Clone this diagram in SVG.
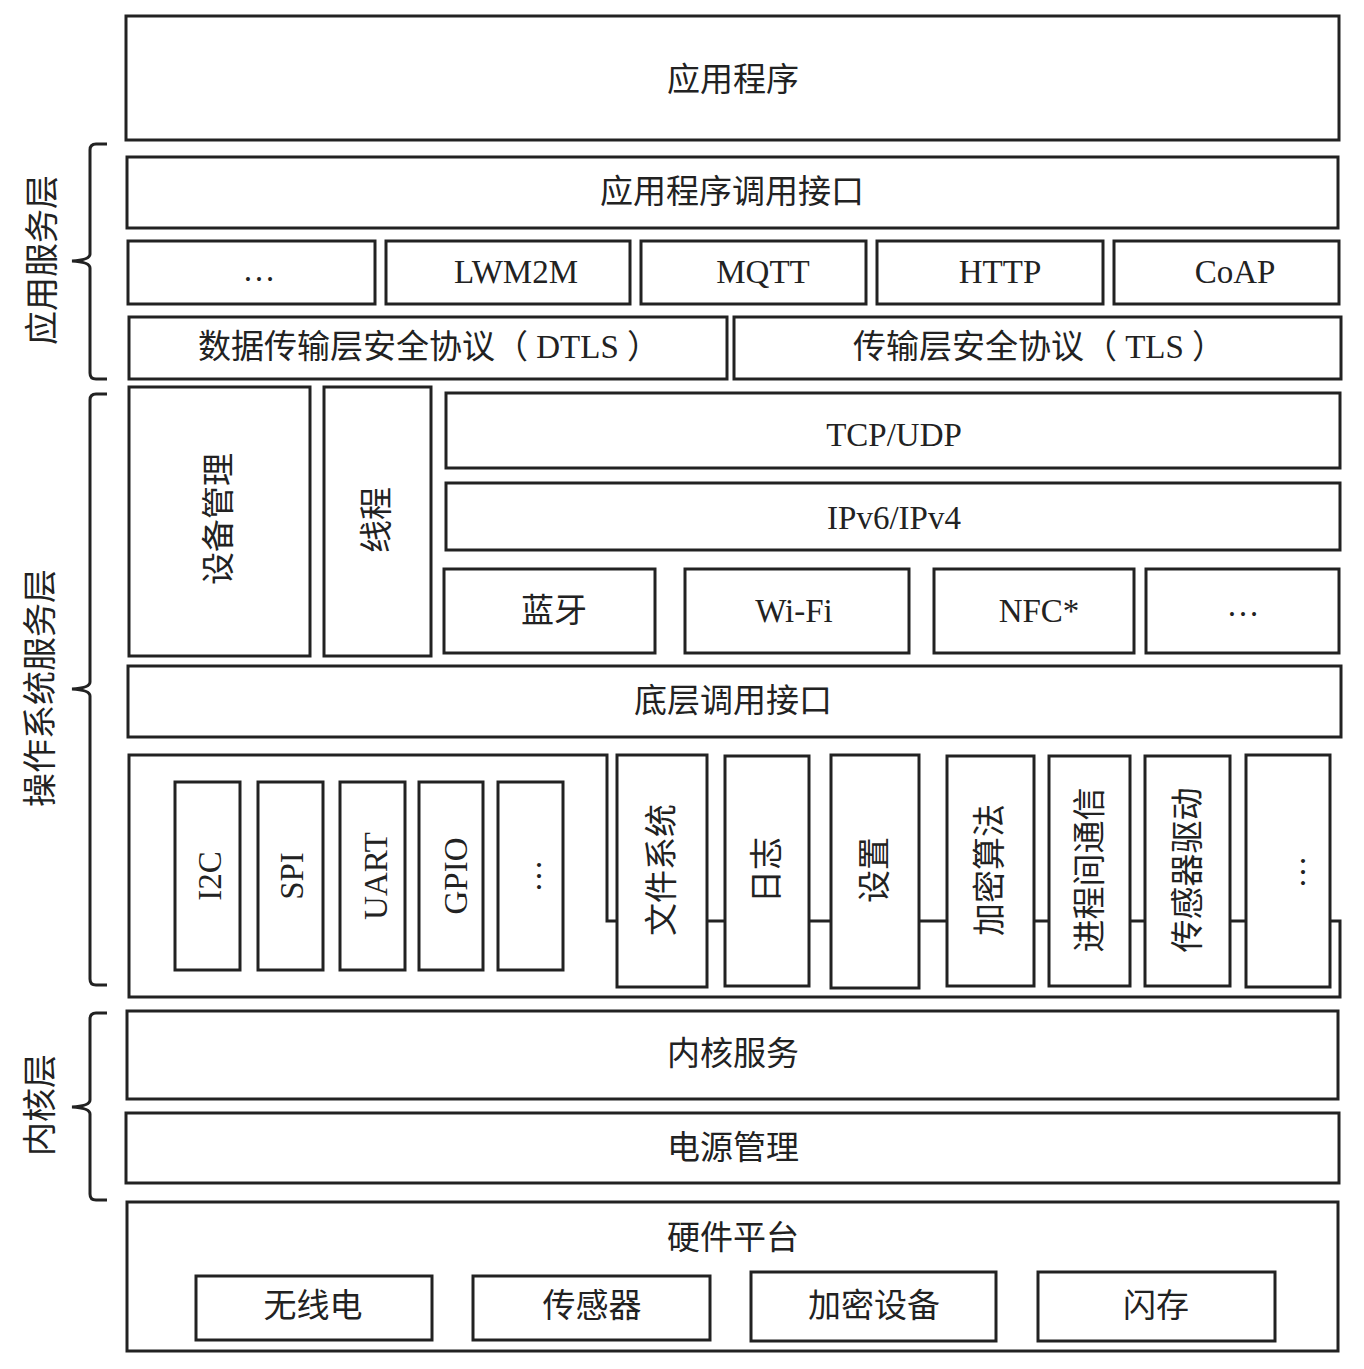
<svg xmlns="http://www.w3.org/2000/svg" width="1364" height="1369" viewBox="0 0 1364 1369">
<style>
  .b { fill: #fff; stroke: #222; stroke-width: 3; }
  .ln { fill: none; stroke: #222; stroke-width: 3; }
  .t { font-family: "Liberation Serif", "Noto Sans CJK SC", serif; font-size: 33px; fill: #222; text-anchor: middle; dominant-baseline: central; }
  .lbl { font-family: "Liberation Serif", "Noto Sans CJK SC", serif; font-size: 34px; fill: #222; text-anchor: middle; dominant-baseline: central; }
</style>
<rect width="1364" height="1369" fill="#fff"/>

<g id="connectors">
  <path class="ln" d="M107,144 H96 Q90,144 90,150 V254 Q90,260 72,261 Q90,262 90,268 V373 Q90,379 96,379 H107"/>
  <path class="ln" d="M107,394 H96 Q90,394 90,400 V682 Q90,688 72,689 Q90,690 90,696 V979 Q90,985 96,985 H107"/>
  <path class="ln" d="M107,1013 H96 Q90,1013 90,1019 V1100 Q90,1106 72,1107 Q90,1108 90,1114 V1194 Q90,1200 96,1200 H107"/>
</g>

<g id="label-app-service"><text class="lbl" transform="translate(42,260) rotate(-90)">应用服务层</text></g>
<g id="label-os-service"><text class="lbl" transform="translate(40,688) rotate(-90)">操作系统服务层</text></g>
<g id="label-kernel"><text class="lbl" transform="translate(40,1105) rotate(-90)">内核层</text></g>

<g id="app"><rect class="b" x="126" y="16" width="1213" height="124"/><text class="t" x="733" y="80">应用程序</text></g>
<g id="api"><rect class="b" x="127" y="157" width="1211" height="71"/><text class="t" x="732" y="192">应用程序调用接口</text></g>

<g id="proto-more"><rect class="b" x="128" y="241" width="247" height="63"/><text class="t" x="259" y="270">…</text></g>
<g id="lwm2m"><rect class="b" x="386" y="241" width="244" height="63"/><text class="t" x="516" y="272">LWM2M</text></g>
<g id="mqtt"><rect class="b" x="641" y="241" width="225" height="63"/><text class="t" x="763" y="272">MQTT</text></g>
<g id="http"><rect class="b" x="877" y="241" width="226" height="63"/><text class="t" x="1000" y="272">HTTP</text></g>
<g id="coap"><rect class="b" x="1114" y="241" width="225" height="63"/><text class="t" x="1235" y="272">CoAP</text></g>

<g id="dtls"><rect class="b" x="129" y="317" width="598" height="62"/><text class="t" x="429" y="347" xml:space="preserve">数据传输层安全协议（ DTLS ）</text></g>
<g id="tls"><rect class="b" x="734" y="317" width="607" height="62"/><text class="t" x="1039" y="347" xml:space="preserve">传输层安全协议（ TLS ）</text></g>

<g id="devmgmt"><rect class="b" x="129" y="387" width="181" height="269"/><text class="t" transform="translate(219,519) rotate(-90)">设备管理</text></g>
<g id="thread"><rect class="b" x="324" y="387" width="107" height="269"/><text class="t" transform="translate(377,520) rotate(-90)">线程</text></g>
<g id="tcpudp"><rect class="b" x="446" y="393" width="894" height="75"/><text class="t" x="894" y="435">TCP/UDP</text></g>
<g id="ip"><rect class="b" x="446" y="483" width="894" height="67"/><text class="t" x="894" y="518">IPv6/IPv4</text></g>
<g id="bt"><rect class="b" x="444" y="569" width="211" height="84"/><text class="t" x="554" y="611">蓝牙</text></g>
<g id="wifi"><rect class="b" x="685" y="569" width="224" height="84"/><text class="t" x="794" y="611">Wi-Fi</text></g>
<g id="nfc"><rect class="b" x="934" y="569" width="200" height="84"/><text class="t" x="1039" y="611">NFC*</text></g>
<g id="link-more"><rect class="b" x="1146" y="569" width="193" height="84"/><text class="t" x="1243" y="605">…</text></g>
<g id="lowapi"><rect class="b" x="128" y="666" width="1213" height="71"/><text class="t" x="733" y="701">底层调用接口</text></g>

<g id="drivers">
  <path class="b" d="M129,755 H607 V921 H1340 V997 H129 Z"/>
  <g id="i2c"><rect class="b" x="175" y="782" width="65" height="188"/><text class="t" transform="translate(210,876) rotate(-90)">I2C</text></g>
  <g id="spi"><rect class="b" x="258" y="782" width="65" height="188"/><text class="t" transform="translate(292,876) rotate(-90)">SPI</text></g>
  <g id="uart"><rect class="b" x="340" y="782" width="65" height="188"/><text class="t" transform="translate(376,876) rotate(-90)">UART</text></g>
  <g id="gpio"><rect class="b" x="419" y="782" width="64" height="188"/><text class="t" transform="translate(456,876) rotate(-90)">GPIO</text></g>
  <g id="bus-more"><rect class="b" x="498" y="782" width="65" height="188"/><text class="t" transform="translate(530,876) rotate(-90)">…</text></g>
</g>

<g id="fs"><rect class="b" x="617" y="755" width="90" height="232"/><text class="t" transform="translate(662,870) rotate(-90)">文件系统</text></g>
<g id="log"><rect class="b" x="725" y="756" width="84" height="230"/><text class="t" transform="translate(767,870) rotate(-90)">日志</text></g>
<g id="settings"><rect class="b" x="831" y="755" width="88" height="233"/><text class="t" transform="translate(875,870) rotate(-90)">设置</text></g>
<g id="crypto"><rect class="b" x="947" y="756" width="87" height="230"/><text class="t" transform="translate(990,870) rotate(-90)">加密算法</text></g>
<g id="ipc"><rect class="b" x="1049" y="756" width="81" height="230"/><text class="t" transform="translate(1090,870) rotate(-90)">进程间通信</text></g>
<g id="sensordrv"><rect class="b" x="1145" y="756" width="85" height="230"/><text class="t" transform="translate(1188,870) rotate(-90)">传感器驱动</text></g>
<g id="svc-more"><rect class="b" x="1246" y="755" width="84" height="232"/><text class="t" transform="translate(1294,872) rotate(-90)">…</text></g>

<g id="kernel"><rect class="b" x="127" y="1011" width="1211" height="88"/><text class="t" x="733" y="1054">内核服务</text></g>
<g id="power"><rect class="b" x="126" y="1113" width="1213" height="70"/><text class="t" x="733" y="1148">电源管理</text></g>
<g id="hw"><rect class="b" x="127" y="1202" width="1211" height="149"/><text class="t" x="733" y="1238">硬件平台</text></g>
<g id="radio"><rect class="b" x="196" y="1276" width="236" height="64"/><text class="t" x="313" y="1306">无线电</text></g>
<g id="sensor"><rect class="b" x="473" y="1276" width="237" height="64"/><text class="t" x="592" y="1306">传感器</text></g>
<g id="cryptodev"><rect class="b" x="751" y="1272" width="245" height="69"/><text class="t" x="874" y="1306">加密设备</text></g>
<g id="flash"><rect class="b" x="1038" y="1272" width="237" height="69"/><text class="t" x="1156" y="1306">闪存</text></g>
</svg>
